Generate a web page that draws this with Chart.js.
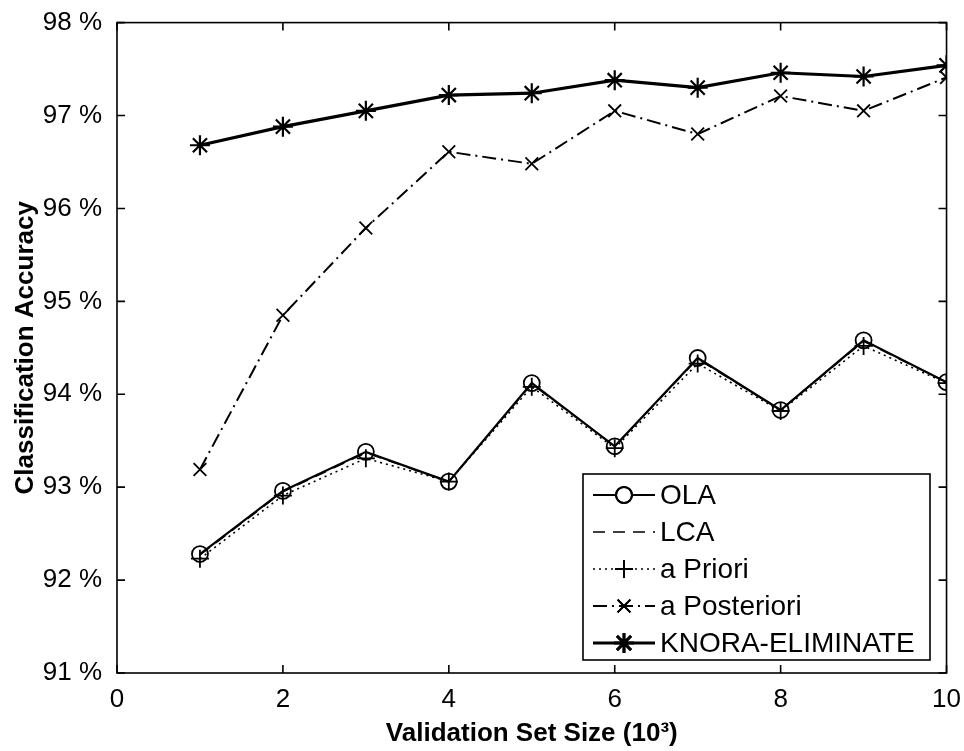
<!DOCTYPE html>
<html>
<head>
<meta charset="utf-8">
<script src="https://cdn.jsdelivr.net/npm/chart.js@4.4.1/dist/chart.umd.min.js"></script>
<style>
    html, body { margin: 0; padding: 0; background: #fff; }
    #wrap { width: 964px; height: 751px; }
</style>
</head>
<body>
<div id="wrap"><canvas id="chartAcc" width="964" height="751"></canvas></div>
<script>
// ==========================================
// DATOS
// ==========================================
const sizes = [1, 2, 3, 4, 5, 6, 7, 8, 9, 10];
const ola = [92.28, 92.96, 93.38, 93.06, 94.12, 93.44, 94.39, 93.83, 94.58, 94.13];
const lca = [92.27, 92.95, 93.37, 93.06, 94.11, 93.44, 94.38, 93.83, 94.57, 94.13];
const aPriori = [92.23, 92.91, 93.31, 93.06, 94.08, 93.42, 94.33, 93.82, 94.52, 94.12];
const aPosteriori = [93.19, 94.85, 95.79, 96.61, 96.48, 97.05, 96.80, 97.21, 97.05, 97.41];
const knora = [96.68, 96.88, 97.05, 97.22, 97.24, 97.38, 97.30, 97.46, 97.42, 97.54];

const xTicks = [0, 2, 4, 6, 8, 10];
const yTicks = [91, 92, 93, 94, 95, 96, 97, 98];

const FONT = "'Liberation Sans', Arial, Helvetica, sans-serif";

const toPoints = arr => arr.map((v, i) => ({ x: sizes[i], y: v }));

function serie(label, data, extra) {
    return Object.assign({
        label: label,
        data: toPoints(data),
        borderColor: '#000',
        backgroundColor: 'transparent',
        pointBorderColor: '#000',
        pointBackgroundColor: 'transparent',
        pointBorderWidth: 1.8,
        pointRadius: 8,
        pointHoverRadius: 8,
        borderWidth: 2,
        tension: 0,
        fill: false
    }, extra);
}

const datasets = [
    serie('OLA', ola, { pointStyle: 'circle', borderWidth: 2.2 }),
    serie('LCA', lca, { pointRadius: 0, borderWidth: 1.5, borderDash: [12, 8] }),
    serie('a Priori', aPriori, { pointStyle: 'cross', pointRadius: 9, borderWidth: 1.6, borderDash: [2, 4] }),
    serie('a Posteriori', aPosteriori, { pointStyle: 'crossRot', pointRadius: 9, borderWidth: 2, borderDash: [14, 5, 2, 5] }),
    serie('KNORA-ELIMINATE', knora, { pointStyle: 'star', pointRadius: 10, borderWidth: 3.2, pointBorderWidth: 2.2 })
];

// ==========================================
// MARCO, TICKS HACIA DENTRO Y LEYENDA
// ==========================================
const marcoPlugin = {
    id: 'marco',
    afterDatasetsDraw(chart) {
        const ctx = chart.ctx;
        const a = chart.chartArea;
        const sx = chart.scales.x, sy = chart.scales.y;
        const tl = 8;

        ctx.save();
        ctx.strokeStyle = '#000';
        ctx.lineWidth = 1.6;
        ctx.setLineDash([]);
        ctx.strokeRect(a.left, a.top, a.right - a.left, a.bottom - a.top);

        ctx.beginPath();
        sx.ticks.forEach(t => {
            const px = sx.getPixelForValue(t.value);
            ctx.moveTo(px, a.bottom); ctx.lineTo(px, a.bottom - tl);
            ctx.moveTo(px, a.top); ctx.lineTo(px, a.top + tl);
        });
        sy.ticks.forEach(t => {
            const py = sy.getPixelForValue(t.value);
            ctx.moveTo(a.left, py); ctx.lineTo(a.left + tl, py);
            ctx.moveTo(a.right, py); ctx.lineTo(a.right - tl, py);
        });
        ctx.stroke();

        // leyenda
        const box = { x: 583, y: 474, w: 347, h: 186 };
        ctx.fillStyle = '#fff';
        ctx.fillRect(box.x, box.y, box.w, box.h);
        ctx.lineWidth = 1.6;
        ctx.strokeRect(box.x, box.y, box.w, box.h);

        ctx.font = '28px ' + FONT;
        ctx.textBaseline = 'middle';
        ctx.textAlign = 'left';
        chart.data.datasets.forEach((ds, i) => {
            const y = box.y + 21 + i * 37;
            ctx.strokeStyle = '#000';
            ctx.lineWidth = ds.borderWidth;
            ctx.setLineDash(ds.borderDash || []);
            ctx.beginPath();
            ctx.moveTo(box.x + 10, y);
            ctx.lineTo(box.x + 72, y);
            ctx.stroke();
            ctx.setLineDash([]);
            if (ds.pointRadius > 0) {
                Chart.helpers.drawPoint(ctx, {
                    pointStyle: ds.pointStyle,
                    radius: ds.pointRadius,
                    rotation: 0,
                    borderWidth: ds.pointBorderWidth
                }, box.x + 41, y);
                ctx.strokeStyle = '#000';
                ctx.lineWidth = ds.pointBorderWidth;
                ctx.stroke();
            }
            ctx.fillStyle = '#000';
            ctx.fillText(ds.label, box.x + 77, y + 1);
        });
        ctx.restore();
    }
};

const fondoBlanco = {
    id: 'fondoBlanco',
    beforeDraw(chart) {
        const ctx = chart.ctx;
        ctx.save();
        ctx.fillStyle = '#fff';
        ctx.fillRect(0, 0, chart.width, chart.height);
        ctx.restore();
    }
};

// ==========================================
// GRÁFICO
// ==========================================
new Chart(document.getElementById('chartAcc'), {
    type: 'line',
    data: { datasets: datasets },
    plugins: [fondoBlanco, marcoPlugin],
    options: {
        responsive: false,
        animation: false,
        events: [],
        layout: { padding: { top: 18, right: 16, left: 0, bottom: 0 } },
        plugins: { legend: { display: false }, tooltip: { enabled: false } },
        scales: {
            x: {
                type: 'linear',
                min: 0, max: 10,
                afterBuildTicks: s => { s.ticks = xTicks.map(v => ({ value: v })); },
                afterFit: s => { s.height = 78; },
                grid: { display: false },
                border: { display: false },
                ticks: {
                    color: '#000',
                    font: { family: FONT, size: 26 },
                    padding: 3,
                    maxRotation: 0,
                    autoSkip: false
                },
                title: {
                    display: true,
                    text: 'Validation Set Size (10³)',
                    color: '#000',
                    font: { family: FONT, size: 26, weight: 'bold' },
                    padding: { top: 0, bottom: 2 }
                }
            },
            y: {
                type: 'linear',
                min: 91, max: 98,
                afterBuildTicks: s => { s.ticks = yTicks.map(v => ({ value: v })); },
                afterFit: s => { s.width = 117; },
                grid: { display: false },
                border: { display: false },
                ticks: {
                    color: '#000',
                    font: { family: FONT, size: 26 },
                    padding: 7,
                    callback: v => v + ' %'
                },
                title: {
                    display: true,
                    text: 'Classification Accuracy',
                    color: '#000',
                    font: { family: FONT, size: 26, weight: 'bold' },
                    padding: { top: 10, bottom: 0 }
                }
            }
        }
    }
});
</script>
</body>
</html>
